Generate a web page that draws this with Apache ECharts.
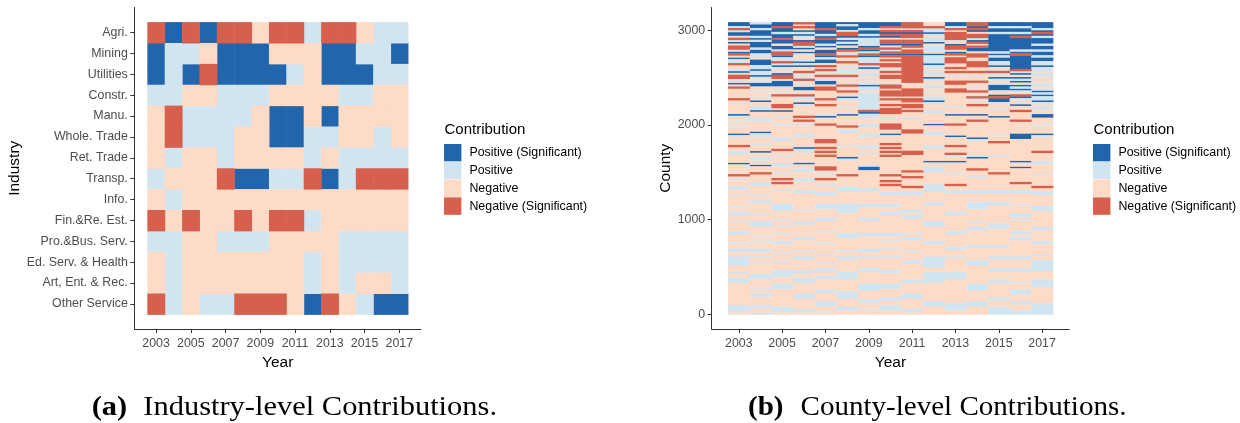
<!DOCTYPE html>
<html>
<head>
<meta charset="utf-8">
<script src="https://cdn.jsdelivr.net/npm/echarts@6/dist/echarts.min.js"></script>
<style>
  html, body { margin: 0; padding: 0; background: #fff; }
  #chart { width: 1240px; height: 423px; }
</style>
</head>
<body>
<div id="chart"></div>
<script>
// ---- data -------------------------------------------------------------
const years = [2003, 2004, 2005, 2006, 2007, 2008, 2009, 2010, 2011, 2012, 2013, 2014, 2015, 2016, 2017];
const yearTicks = [2003, 2005, 2007, 2009, 2011, 2013, 2015, 2017];

const levels = ['Positive (Significant)', 'Positive', 'Negative', 'Negative (Significant)'];
const levelColors = ['#2166AC', '#D1E5F0', '#FDDBC7', '#D6604D'];
// B = positive significant, b = positive, r = negative, R = negative significant
const levelCodes = { B: 0, b: 1, r: 2, R: 3 };

const industries = ['Agri.', 'Mining', 'Utilities', 'Constr.', 'Manu.', 'Whole. Trade', 'Ret. Trade',
  'Transp.', 'Info.', 'Fin.&Re. Est.', 'Pro.&Bus. Serv.', 'Ed. Serv. & Health', 'Art, Ent. & Rec.', 'Other Service'];

// one string per industry, one code per year 2003..2017
const industryContrib = [
  'RBRBRRrRRbRRrbb',
  'BbbrBBBrrrBBbbB',
  'BbBRBBBBbrBBBbb',
  'bbrrbbbrrrrbbrr',
  'rRbbbbrBBrBrrrr',
  'rRbbbrrBBbbrrbr',
  'rbrrbrrrrbrbbbb',
  'brrrRBBbbRBbRRR',
  'rbrrrrrrrrrrrrr',
  'RrRrrRrRRbrrrrr',
  'bbrrbbbrrrrbbbb',
  'rbrrrrrrrbrbbbb',
  'rbrrrrrrrbrbrrb',
  'RbrbbRRRrBRrbBB'
];

// counties, ordered from the highest id (top) down to 1, in equal-size bands
const countyCount = 3086;
const countyTicks = [0, 1000, 2000, 3000];
const countyBandsByYear = [
  // 2003
  'BBbRb BBrRb BrRRr BRrBr bRrrb BrRRb rBrRr rrrrR  rbrrr rrBbr brrbr rrBrb rrrRr rbbrr rrBrb rrrRr  brrrb brrbr rrrrb rrbbr rrbrr rrbbr rrrbr rbbrr  bbbbb rrrbr rbbbr rrrrr rrrrr bbbbr',
  // 2004
  'bBBbB BBbBb BBBbB BbbrB BBbbB bbBbr bBBrr brrbr  Brrbb Brrrb brrrr rBbbr rrbrr rBrrb brrBr rrRrr  rrbbr rrrbr rbbrr rrrbr rrbbb rrrrb rrbrr rbbrr  brrbr rrrrb bbrrr rbrrb brrrr bbrrb',
  // 2005
  'BBRBB bBBRB BrBBb RRBbb RbBbr bBRRb BBBrr brRrr  rrRRr Brrbr rrbrr rrrrb brrrr Rrrbr rrbbr rrbrr  RrRrr rbrrr rrrbb bbrrr rbrrb rrrbr rrbbr rrrbr  rrbrr rrbbb brrrb bbrrr rrrrr rbbbr',
  // 2006
  'RrRrB bBbrB RRbBr Bbrrb BbBrr RbrbR rbrBB rrRbb  rBbrr rrrRr Rrbrr rrbbr rrrrB bbrrr rrBrr bbrrr  bbrrr rbbrr rrrrr rbrrr rrbbr rrrrr bbrrr rrbrr  bbrrr rrbbr rbbbr rrrrb bbrrr rrbbr',
  // 2007
  'BBBRB BbBRB BbBrB BRBbB BrRrR brRrb BBrRR rrrrR  rrRrr rrbBr rrRrr rrrrr RRrrR rRrRr rrrrR Rrbrr  Rrrbr rrbbr rrrbb brrrr bbrrr rrbrr rrrbr rrrrb  rrrbr rbbrr bbrrr rrbbr rrrbb brrbr',
  // 2008
  'BbBBb RRBbB bBrBR rbRrr Rrbrb brRbr rbRrr RrrBb  rrrbr rrBrr rrrRr bbrrr rrrbr rrrrB brrrr rrrRr  rrrrb bbrrr rrrbb bbbrr rrrrr rrrbb brrrr rrbrr  bbrrr rrrbb bbrrr rrrbb bbrrr rbbrr',
  // 2009
  'BBBbB BbBbb bbBRB bRBbb bRbBb rbbrb rbBbb rbbbb  bbbbb RBbbr rrbbr rrbbr rrrbb rrbrr rrrbB Brrrr  rrrrr bbrrr rrrbb rrrrr bbrrr rrrbb rrrrr rbbrr  brrrr rbbrr rrrrb bbbrr rrbbr rrbrr',
  // 2010
  'BBRrR BRBrR RBrRb RBRrR rRRrb RrRRr rbRRr RRRrR  rrRrR RRrrb rrRRR rrBrr rrRrR rRrRr rrrrr rrrRr  rRrRr rrbbr rrrbb rrbbr rrrrr rrrbb rrbrr rbrrr  brrrr rrbbr rrrrb bbrrr rbbrr bbbrr',
  // 2011
  'RRRbR BRRrR RBRrR RBRRR RRRRR RRRRR RrrrR RRRrR  RrRRr Rrrrb rrrrr RRrrr rrrrr rRRrr rrrrr rRrrR  rrrrR rrbbr rrrrr rbbrb brrrr rrrbr bbrrr rrbrr  rrbbr rrrrr rrbbr rrrrb bbrrr rrbbr',
  // 2012
  'rrRbb Bbrbb Brbbb rBbbb bBbbr bbrBb rrbbr brrbb  Bbrrr bbrrr rrBrr rbbrr rrrbb rrrrr rBrrb bbrrr  rrrbb bbrrr rrbbr rrrrr rrbbb rrrrr rrbbr rrrrr  bbbbb brrbb bbbbr rrrrr rrrbb brrrr',
  // 2013
  'BBbRr RRRRb rBRRr BRrRR RrrRr Rrbrr RRrrR Rrrrr  rrrbr rrBrr rrRrr rrrBr rrrRr rrRbr rBrrr rrbrr  rrrRr rbbrr rrrrr rrbbr rrrrr rrbbr rrrrr bbrrr  brrrr rrrbb bbrrr rrrrr rrrrb bbbrr',
  // 2014
  'RRBRB rRRbB RrRBB rRRrr RRRrr Rrbrr Rrrbr RrbRb  rbRrr rrBrr Rrrrr rrrrB brrrr rrrbB rrrrr Rrrrb  rrrrr rbbrr rrbbb brrrr rrbrr bbrrr rrrrb brrrr  rrbbb rrrrr rrrrb bbbrr rrrbb brrrr',
  // 2015
  'BBbBB bBBBB BBBBB bBbBB bbBrb RbrBb rbBBB rrBRB  Bbrrb rrrBr rrrrr rrbrr rRrrr rrrbr rrrrr rrRrr  rrrrr rbbrr rrbbr rrrrr rrrbb brrrr rrrrb brrrr  bbrrr rbbrr rrbbr rrrrr rbbrr rbbbb',
  // 2016
  'BBbBB bBRBB BBBBb BRBBB BBBBR bBrBb BrBbB brRBb  rrBrr Rrrrr Rrrrr rrBBB rrrrr rrrrr rBrrB rrrrr  rrRrr rbbrr rrrbr rrrbb rbrrr rrbbr bbrrr rrrrr  bbrrr rbbrr rrrbr rrbbb rrrbb rrrbb',
  // 2017
  'BBBbB RBbBB BbBBb BBbBB bbBbb rbbrb rbbrb BbBbb  Bbrbb rrBBr rrbrr rrBbr rrrrr rRrrr rbbrr rrrbr  rrrrR rrbbr rrrrb bbrrr rrrrr bbrrr rrbbr rrrrb  rrbbb bbbrr rrbbb brrrr rrrrb bbbbb'
];

// ---- build series data ------------------------------------------------
const industryData = levels.map(() => []);
industryContrib.forEach((row, r) => {
  [...row].forEach((code, c) => industryData[levelCodes[code]].push([years[c], r]));
});

const countyData = levels.map(() => []);
countyBandsByYear.forEach((raw, c) => {
  const codes = raw.replace(/[^BbRr]/g, '');
  const n = codes.length;
  const bandSize = countyCount / n;
  let k = 0;
  while (k < n) {
    let j = k;
    while (j + 1 < n && codes[j + 1] === codes[k]) j++;
    const hi = countyCount + 0.5 - k * bandSize;
    const lo = countyCount + 0.5 - (j + 1) * bandSize;
    countyData[levelCodes[codes[k]]].push([years[c], lo, hi]);
    k = j + 1;
  }
});

// ---- scales: tiles plus a 5% margin on each side ----------------------
function padded(lo, hi) {
  const p = (hi - lo) * 0.05;
  return [lo - p, hi + p];
}
const [xMin, xMax] = padded(years[0] - 0.5, years[years.length - 1] + 0.5);
const [indMin, indMax] = padded(-0.5, industries.length - 0.5);
const [ctyMin, ctyMax] = padded(0.5, countyCount + 0.5);

// ---- styling ----------------------------------------------------------
const sans = '"Liberation Sans", Arial, sans-serif';
const serif = '"Liberation Serif", "Times New Roman", serif';
const tickColor = '#4D4D4D';
const lineColor = '#333';

function baseAxis(extra) {
  return Object.assign({
    type: 'value',
    splitLine: { show: false },
    axisLine: { show: true, onZero: false, lineStyle: { color: lineColor, width: 1 } },
    axisTick: { show: true, length: 4, lineStyle: { color: lineColor, width: 1 } },
    nameLocation: 'middle',
    nameTextStyle: { fontFamily: sans, fontSize: 15.5, color: '#000' }
  }, extra);
}

function xAxisFor(grid) {
  return baseAxis({
    gridIndex: grid,
    min: xMin, max: xMax,
    name: 'Year', nameGap: 24,
    axisTick: { show: true, length: 4, customValues: yearTicks, lineStyle: { color: lineColor, width: 1 } },
    axisLabel: { customValues: yearTicks, formatter: v => String(v), margin: 8.5,
      fontFamily: sans, fontSize: 12.4, color: tickColor }
  });
}

const industryTicks = industries.map((_, i) => i);

function tileSeries(name, color, data) {
  return {
    type: 'custom', name, xAxisIndex: 0, yAxisIndex: 0,
    itemStyle: { color }, silent: true, data,
    renderItem: (params, api) => {
      const a = api.coord([api.value(0) - 0.5, api.value(1) - 0.5]);
      const b = api.coord([api.value(0) + 0.5, api.value(1) + 0.5]);
      return { type: 'rect',
        shape: { x: Math.min(a[0], b[0]), y: Math.min(a[1], b[1]),
                 width: Math.abs(b[0] - a[0]) + 0.5, height: Math.abs(b[1] - a[1]) + 0.5 },
        style: { fill: color } };
    }
  };
}

function bandSeries(name, color, data) {
  return {
    type: 'custom', name, xAxisIndex: 1, yAxisIndex: 1,
    itemStyle: { color }, silent: true, data,
    renderItem: (params, api) => {
      const a = api.coord([api.value(0) - 0.5, api.value(2)]);
      const b = api.coord([api.value(0) + 0.5, api.value(1)]);
      return { type: 'rect',
        shape: { x: a[0], y: a[1], width: b[0] - a[0] + 0.4, height: b[1] - a[1] + 0.4 },
        style: { fill: color } };
    }
  };
}

function legendAt(left) {
  return {
    left, top: 144, orient: 'vertical', icon: 'rect', padding: 0,
    itemWidth: 17.4, itemHeight: 17.4, itemGap: 0.4,
    selectedMode: false, data: levels,
    textStyle: { fontFamily: sans, fontSize: 12.4, color: '#000', padding: [0, 0, 0, 3] }
  };
}

// captions: serif text stretched slightly to its set width
function textWidth(txt, font) {
  const ctx = document.createElement('canvas').getContext('2d');
  ctx.font = font;
  return ctx.measureText(txt).width;
}
const capSize = 28;
const capFont = capSize + 'px ' + serif;
const capScaleA = 353.7 / textWidth('Industry-level Contributions.', capFont);
const capScaleB = 326 / textWidth('County-level Contributions.', capFont);

function caption(x, y, txt, bold, scale) {
  return { type: 'text', x, y, scaleX: scale, silent: true,
    style: { text: txt, fontFamily: serif, fontSize: capSize, fontWeight: bold ? 'bold' : 'normal',
             fill: '#000', align: 'left', verticalAlign: 'middle' } };
}
function legendTitle(x) {
  return { type: 'text', x, y: 129.5, silent: true,
    style: { text: 'Contribution', fontFamily: sans, fontSize: 15, fill: '#000',
             align: 'left', verticalAlign: 'middle' } };
}

const chart = echarts.init(document.getElementById('chart'), null, { renderer: 'canvas' });
chart.setOption({
  animation: false,
  backgroundColor: '#fff',
  grid: [
    { left: 134.3, top: 7.5, width: 286.7, height: 321.5 },
    { left: 711.7, top: 7.5, width: 357.5, height: 321.5 }
  ],
  xAxis: [xAxisFor(0), xAxisFor(1)],
  yAxis: [
    baseAxis({
      gridIndex: 0, inverse: true, min: indMin, max: indMax,
      name: 'Industry', nameGap: 106, nameRotate: 90,
      axisTick: { show: true, length: 4, customValues: industryTicks, lineStyle: { color: lineColor, width: 1 } },
      axisLabel: { customValues: industryTicks, formatter: v => industries[v], margin: 6.5,
        fontFamily: sans, fontSize: 12.4, color: tickColor }
    }),
    baseAxis({
      gridIndex: 1, min: ctyMin, max: ctyMax,
      name: 'County', nameGap: 37, nameRotate: 90,
      axisTick: { show: true, length: 4, customValues: countyTicks, lineStyle: { color: lineColor, width: 1 } },
      axisLabel: { customValues: countyTicks, formatter: v => String(v), margin: 6.5,
        fontFamily: sans, fontSize: 12.4, color: tickColor }
    })
  ],
  legend: [legendAt(444), legendAt(1093)],
  graphic: [
    legendTitle(444.5),
    legendTitle(1093.5),
    caption(91.7, 407.5, '(a)', true, capScaleA),
    caption(143.3, 407.5, 'Industry-level Contributions.', false, capScaleA),
    caption(748, 407.5, '(b)', true, capScaleB),
    caption(800.5, 407.5, 'County-level Contributions.', false, capScaleB)
  ],
  series: [
    ...levels.map((name, i) => tileSeries(name, levelColors[i], industryData[i])),
    ...levels.map((name, i) => bandSeries(name, levelColors[i], countyData[i]))
  ]
});
</script>
</body>
</html>
